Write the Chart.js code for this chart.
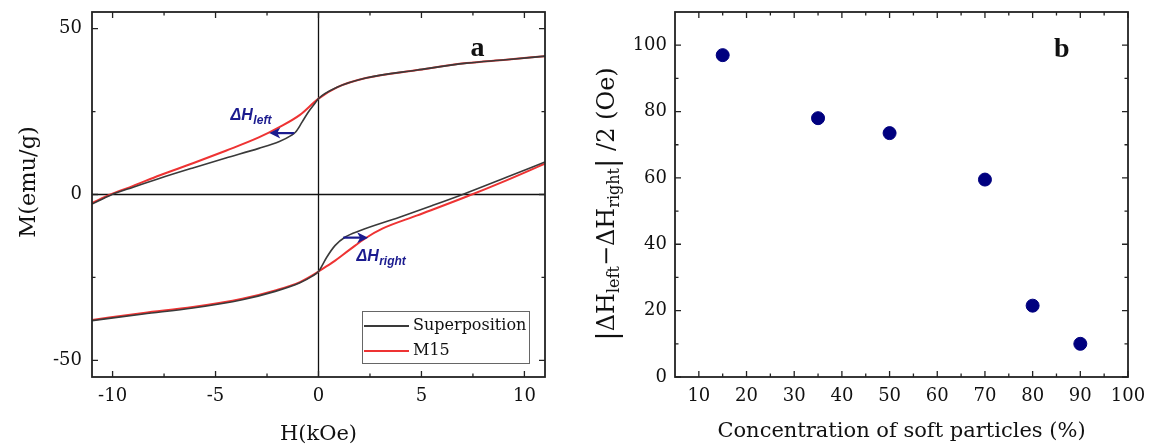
<!DOCTYPE html>
<html>
<head>
<meta charset="utf-8">
<script src="https://cdn.jsdelivr.net/npm/chart.js@4.4.1/dist/chart.umd.min.js"></script>
<style>
  body { margin: 0; background: #fff; }
  #wrap { position: relative; width: 1150px; height: 448px; }
  canvas { position: absolute; top: 0; }
</style>
</head>
<body>
<div id="wrap">
  <canvas id="chartA" width="575" height="448" style="left:0"></canvas>
  <canvas id="chartB" width="575" height="448" style="left:575px"></canvas>
</div>
<script>
// panel a : hysteresis loops, H in kOe, M in emu/g
const m15UpH  = [-11, -10.1, -9.0, -7.7, -6.1, -4.5, -2.9, -1.9, -0.9, 0, 0.9, 2.3, 4.8, 7.2, 9.1, 11];
const m15UpM  = [-2.6, 0, 2.6, 5.8, 9.4, 13.2, 17.2, 20.3, 24.0, 28.9, 32.3, 35.1, 37.5, 39.6, 40.6, 41.7];
const m15LowH = [-11, -8.5, -6.1, -3.7, -2.1, -0.9, -0.3, 0, 0.7, 1.5, 2.3, 3.1, 4.8, 7.2, 9.1, 11];
const m15LowM = [-37.8, -35.7, -33.9, -31.4, -28.9, -26.4, -24.4, -23.2, -20.4, -16.7, -13.1, -10.3, -6.3, -0.6, 4.2, 9.3];
const supUpH  = [-11, -10.1, -9.0, -7.7, -6.1, -4.5, -2.9, -1.9, -1.3, -1.1, -0.8, -0.5, -0.17, 0, 0.9, 2.3, 4.8, 7.2, 9.1, 11];
const supUpM  = [-2.9, -0.2, 2.2, 4.9, 8.0, 11.0, 13.9, 16.0, 17.9, 18.9, 21.8, 24.8, 27.5, 28.9, 32.3, 35.1, 37.5, 39.6, 40.6, 41.7];
const supLowH = [-11, -8.5, -6.1, -3.7, -2.1, -0.9, -0.3, 0, 0.4, 0.8, 1.3, 2.0, 3.9, 5.5, 7.0, 9.1, 11];
const supLowM = [-38.0, -36.0, -34.2, -31.7, -29.2, -26.6, -24.6, -23.2, -18.9, -15.4, -12.8, -10.9, -6.9, -3.4, 0, 5.1, 9.8];

const aTicksX = [-10, -5, 0, 5, 10];
const aMinorX = [-7.5, -2.5, 2.5, 7.5];
const aTicksY = [-50, 0, 50];
const aMinorY = [-25, 25];

// panel b : half difference of the shifts vs soft particle content
const concentration = [15, 35, 50, 70, 80, 90];
const deltaH = [97, 78, 73.5, 59.5, 21.5, 10];

const bTicksX = [10, 20, 30, 40, 50, 60, 70, 80, 90, 100];
const bMinorX = [15, 25, 35, 45, 55, 65, 75, 85, 95];
const bTicksY = [0, 20, 40, 60, 80, 100];
const bMinorY = [10, 30, 50, 70, 90];

const serif = '"DejaVu Serif", serif';
const sans = '"Liberation Sans", Arial, sans-serif';
const navy = '#1b1b8f';

function pts(xs, ys) {
    return xs.map((x, i) => ({x: x, y: ys[i]}));
}

function loop(xs, ys, color, width) {
    return {
        data: pts(xs, ys),
        showLine: true,
        borderColor: color,
        borderWidth: width,
        pointRadius: 0,
        cubicInterpolationMode: 'monotone',
        fill: false
    };
}

function axis(min, max, ticks, size, horiz, pad) {
    return {
        type: 'linear',
        min: min,
        max: max,
        grid: {display: false, drawTicks: false},
        border: {display: false},
        ticks: {
            font: {family: serif, size: 18},
            color: '#111',
            padding: pad,
            maxRotation: 0,
            autoSkip: false,
            callback: v => String(v)
        },
        afterBuildTicks: s => { s.ticks = ticks.map(v => ({value: v})); },
        afterFit: s => {
            if (horiz) s.height = size; else s.width = size;
            // the plot box is set by layout padding, not by label overhang
            s.paddingTop = s.paddingBottom = s.paddingLeft = s.paddingRight = 0;
        }
    };
}

// box round the plot, inward ticks on all four sides, optional zero lines
const framePlugin = {
    id: 'frame',
    beforeDatasetsDraw(chart, args, opts) {
        if (!opts.zeroLines) return;
        const {ctx, chartArea: a, scales: {x, y}} = chart;
        const x0 = x.getPixelForValue(0), y0 = y.getPixelForValue(0);
        ctx.save();
        ctx.strokeStyle = '#111';
        ctx.lineWidth = 1.3;
        ctx.beginPath();
        ctx.moveTo(x0, a.top); ctx.lineTo(x0, a.bottom);
        ctx.moveTo(a.left, y0); ctx.lineTo(a.right, y0);
        ctx.stroke();
        ctx.restore();
    },
    afterDatasetsDraw(chart, args, opts) {
        const {ctx, chartArea: a, scales: {x, y}} = chart;
        ctx.save();
        ctx.strokeStyle = '#222';
        ctx.lineWidth = 1.8;
        ctx.strokeRect(a.left, a.top, a.right - a.left, a.bottom - a.top);
        ctx.lineWidth = 1.3;
        ctx.beginPath();
        const tx = (vals, len) => vals.forEach(v => {
            const p = x.getPixelForValue(v);
            ctx.moveTo(p, a.bottom); ctx.lineTo(p, a.bottom - len);
            ctx.moveTo(p, a.top); ctx.lineTo(p, a.top + len);
        });
        const ty = (vals, len) => vals.forEach(v => {
            const p = y.getPixelForValue(v);
            ctx.moveTo(a.left, p); ctx.lineTo(a.left + len, p);
            ctx.moveTo(a.right, p); ctx.lineTo(a.right - len, p);
        });
        tx(opts.xMajor, 6); tx(opts.xMinor, 3.5);
        ty(opts.yMajor, 6); ty(opts.yMinor, 3.5);
        ctx.stroke();
        ctx.restore();
    }
};

function arrow(ctx, x1, x2, yy) {
    const dir = Math.sign(x2 - x1);
    ctx.beginPath();
    ctx.moveTo(x1, yy); ctx.lineTo(x2 - dir * 7, yy);
    ctx.stroke();
    ctx.beginPath();
    ctx.moveTo(x2, yy);
    ctx.lineTo(x2 - dir * 11, yy - 5.5);
    ctx.lineTo(x2 - dir * 8, yy);
    ctx.lineTo(x2 - dir * 11, yy + 5.5);
    ctx.closePath();
    ctx.fill();
}

function deltaLabel(ctx, x, y, sub) {
    ctx.textAlign = 'left';
    ctx.textBaseline = 'alphabetic';
    ctx.font = 'italic bold 16px ' + sans;
    ctx.fillText('ΔH', x, y);
    const w = ctx.measureText('ΔH').width;
    ctx.font = 'italic bold 12px ' + sans;
    ctx.fillText(sub, x + w + 0.5, y + 4);
}

const panelA = {
    id: 'panelA',
    afterDraw(chart) {
        const {ctx, chartArea: a, scales: {x, y}} = chart;
        ctx.save();
        ctx.fillStyle = '#111';
        ctx.font = '21px ' + serif;
        ctx.textAlign = 'center';
        ctx.textBaseline = 'alphabetic';
        ctx.fillText('H(kOe)', (a.left + a.right) / 2, 440);
        ctx.save();
        ctx.translate(35, 182);
        ctx.rotate(-Math.PI / 2);
        ctx.font = '22.5px ' + serif;
        ctx.fillText('M(emu/g)', 0, 0);
        ctx.restore();

        ctx.font = 'bold 28px "Liberation Serif", serif';
        ctx.fillText('a', x.getPixelForValue(7.72), y.getPixelForValue(41.6));

        // shift arrows
        ctx.strokeStyle = navy;
        ctx.fillStyle = navy;
        ctx.lineWidth = 2.2;
        arrow(ctx, x.getPixelForValue(-1.18), x.getPixelForValue(-2.39), y.getPixelForValue(18.5));
        arrow(ctx, x.getPixelForValue(1.2), x.getPixelForValue(2.41), y.getPixelForValue(-13.0));
        deltaLabel(ctx, x.getPixelForValue(-4.27), y.getPixelForValue(22.6), 'left');
        deltaLabel(ctx, x.getPixelForValue(1.84), y.getPixelForValue(-19.9), 'right');

        // legend box
        const lx = a.right - 183, ly = a.bottom - 66;
        ctx.strokeStyle = '#666';
        ctx.lineWidth = 1;
        ctx.strokeRect(lx + 0.5, ly + 0.5, 167, 52);
        const rows = [['Superposition', '#3a3a3a', 1.8], ['M15', '#ee3333', 2]];
        ctx.font = '16px ' + serif;
        ctx.textAlign = 'left';
        ctx.textBaseline = 'middle';
        rows.forEach((r, i) => {
            const yy = ly + 15 + i * 25;
            ctx.strokeStyle = r[1];
            ctx.lineWidth = r[2];
            ctx.beginPath();
            ctx.moveTo(lx + 2, yy); ctx.lineTo(lx + 47, yy);
            ctx.stroke();
            ctx.fillStyle = '#111';
            ctx.fillText(r[0], lx + 51, yy);
        });
        ctx.restore();
    }
};

const panelB = {
    id: 'panelB',
    afterDraw(chart) {
        const {ctx, chartArea: a, scales: {x, y}} = chart;
        ctx.save();
        ctx.fillStyle = '#111';
        ctx.font = '21px ' + serif;
        ctx.textAlign = 'center';
        ctx.textBaseline = 'alphabetic';
        ctx.fillText('Concentration of soft particles (%)', (a.left + a.right) / 2, 437);

        // |ΔH_left − ΔH_right| /2 (Oe), written piece by piece for the subscripts
        const parts = [
            ['|', 28, 2], ['ΔH', 24, 0], ['left', 16, 5], ['−', 24, 0], ['ΔH', 24, 0],
            ['right', 16, 5], ['|', 28, 2], [' /2 (Oe)', 24, 0]
        ];
        let total = 0;
        parts.forEach(p => { ctx.font = p[1] + 'px ' + serif; total += ctx.measureText(p[0]).width; });
        ctx.save();
        ctx.translate(39, 204);
        ctx.rotate(-Math.PI / 2);
        ctx.textAlign = 'left';
        let cx = -total / 2;
        parts.forEach(p => {
            ctx.font = p[1] + 'px ' + serif;
            ctx.fillText(p[0], cx, p[2]);
            cx += ctx.measureText(p[0]).width;
        });
        ctx.restore();

        ctx.textAlign = 'center';
        ctx.font = 'bold 28px "Liberation Serif", serif';
        ctx.fillText('b', x.getPixelForValue(86.1), y.getPixelForValue(96.4));
        ctx.restore();
    }
};

new Chart(document.getElementById('chartA'), {
    type: 'scatter',
    data: {
        datasets: [
            loop(supUpH, supUpM, '#3a3a3a', 1.6),
            loop(supLowH, supLowM, '#3a3a3a', 1.6),
            loop(m15UpH, m15UpM, '#ee3333', 2),
            loop(m15LowH, m15LowM, '#ee3333', 2)
        ]
    },
    options: {
        responsive: false,
        animation: false,
        layout: {padding: {top: 12, right: 30, left: 0, bottom: 0}},
        scales: {
            x: axis(-11, 11, aTicksX, 71, true, 9),
            y: axis(-55, 55, aTicksY, 92, false, 10)
        },
        plugins: {
            legend: {display: false},
            tooltip: {enabled: false},
            frame: {xMajor: aTicksX, xMinor: aMinorX, yMajor: aTicksY, yMinor: aMinorY, zeroLines: true}
        }
    },
    plugins: [framePlugin, panelA]
});

new Chart(document.getElementById('chartB'), {
    type: 'scatter',
    data: {
        datasets: [{
            data: pts(concentration, deltaH),
            backgroundColor: '#00007f',
            borderColor: '#00007f',
            pointRadius: 6.5,
            pointHoverRadius: 6.5
        }]
    },
    options: {
        responsive: false,
        animation: false,
        layout: {padding: {top: 12, right: 22, left: 0, bottom: 0}},
        scales: {
            x: axis(5, 100, bTicksX, 71, true, 9),
            y: axis(0, 110, bTicksY, 100, false, 8)
        },
        plugins: {
            legend: {display: false},
            tooltip: {enabled: false},
            frame: {xMajor: bTicksX, xMinor: bMinorX, yMajor: bTicksY, yMinor: bMinorY, zeroLines: false}
        }
    },
    plugins: [framePlugin, panelB]
});
</script>
</body>
</html>
